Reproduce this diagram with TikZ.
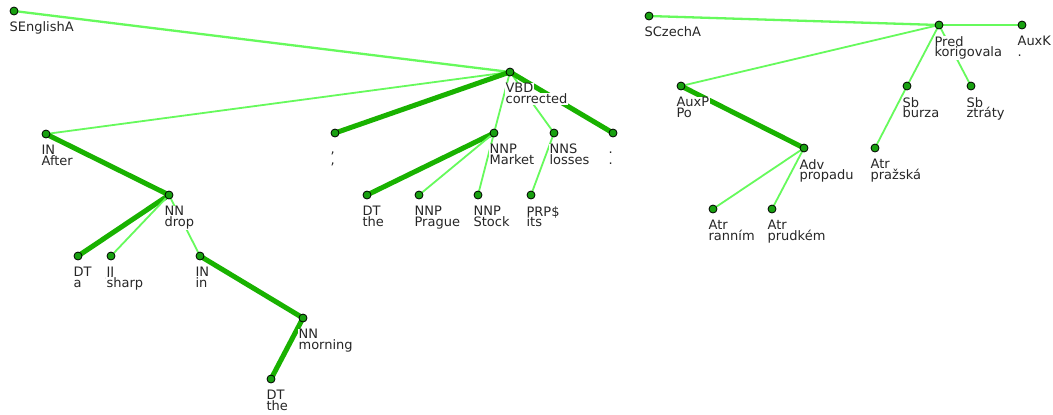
\documentclass[tikz,border=0pt]{standalone}
\usepackage{fontspec}
\newfontfamily\lblfont{DejaVu Sans}
\definecolor{heavyedge}{RGB}{25,178,0}
\definecolor{lightedge}{RGB}{102,250,92}
\definecolor{dotfill}{RGB}{24,160,16}
% label font with fixed, tight line pitch
\newcommand\lblsetup{\lblfont\fontsize{13bp}{10.8bp}\selectfont\lineskiplimit=-20bp\relax}
% one line of a label, on its own white strip
\newcommand\lb[1]{{\setlength\fboxsep{0.4bp}\colorbox{white}{\rule[-0.6bp]{0pt}{10.2bp}#1}}}
\tikzset{
  lbl/.style={anchor=north west, inner sep=0pt, align=left,
    font=\lblsetup, text=black!85},
  dotmark/.style={circle, fill=dotfill, draw=black, line width=0.8bp,
    inner sep=0pt, minimum size=8bp},
  heavy/.style={draw=heavyedge, line width=5bp},
  light/.style={draw=lightedge, line width=1.8bp},
  rootedge/.style={draw=lightedge, line width=2.3bp},
}
% a tree position
\newcommand\tpt[3]{\coordinate (#1) at (#2,#3);}
% two-line label (tag above word) and the dot of a tree node
\newcommand\tlab[3]{%
  \node[lbl] (#1-l) at ([xshift=-5bp,yshift=-10.6bp]#1) {\lb{#2}\\\lb{#3}};
  \node[dotmark] (#1-d) at (#1) {};}
% one-line label and dot of a root
\newcommand\rlab[2]{%
  \node[lbl] (#1-l) at ([xshift=-5bp,yshift=-9.6bp]#1) {\lb{#2}};
  \node[dotmark] (#1-d) at (#1) {};}
\begin{document}
\begin{tikzpicture}[x=1bp,y=-1bp]
\useasboundingbox[fill=white] (0,0) rectangle (1053,414);

% English tree positions
\tpt{seng}{14}{11}
\tpt{corr}{510}{72}
\tpt{after}{46}{134}
\tpt{drop}{169}{195}
\tpt{da}{78}{256}
\tpt{sharp}{111}{256}
\tpt{in}{200}{256}
\tpt{morning}{303}{318}
\tpt{theb}{271}{379}
\tpt{comma}{335}{133}
\tpt{market}{494}{133}
\tpt{losses}{554}{133}
\tpt{period}{613}{133}
\tpt{thea}{367}{195}
\tpt{prague}{419}{195}
\tpt{stock}{478}{195}
\tpt{its}{531}{195}

% Czech tree positions
\tpt{scz}{649}{16}
\tpt{pred}{939}{25}
\tpt{auxk}{1022}{25}
\tpt{auxp}{681}{86}
\tpt{burza}{907}{86}
\tpt{ztraty}{971}{86}
\tpt{adv}{804}{148}
\tpt{prazska}{875}{148}
\tpt{rannim}{713}{209}
\tpt{prudkem}{772}{209}

% English edges
\draw[rootedge] (seng) -- (corr);
\draw[light] (after) -- (corr);
\draw[heavy] (after) -- (drop);
\draw[heavy] (drop) -- (da);
\draw[light] (drop) -- (sharp);
\draw[light] (drop) -- (in);
\draw[heavy] (in) -- (morning);
\draw[heavy] (morning) -- (theb);
\draw[heavy] (corr) -- (comma);
\draw[light] (corr) -- (market);
\draw[light] (corr) -- (losses);
\draw[heavy] (corr) -- (period);
\draw[heavy] (market) -- (thea);
\draw[light] (market) -- (prague);
\draw[light] (market) -- (stock);
\draw[light] (losses) -- (its);

% Czech edges
\draw[rootedge] (scz) -- (pred);
\draw[light] (pred) -- (auxk);
\draw[light] (pred) -- (auxp);
\draw[light] (pred) -- (burza);
\draw[light] (pred) -- (ztraty);
\draw[light] (burza) -- (prazska);
\draw[heavy] (auxp) -- (adv);
\draw[light] (adv) -- (rannim);
\draw[light] (adv) -- (prudkem);

% English labels
\rlab{seng}{SEnglishA}
\tlab{corr}{VBD}{corrected}
\tlab{after}{IN}{After}
\tlab{drop}{NN}{drop}
\tlab{da}{DT}{a}
\tlab{sharp}{JJ}{sharp}
\tlab{in}{IN}{in}
\tlab{morning}{NN}{morning}
\tlab{theb}{DT}{the}
\tlab{comma}{,}{,}
\tlab{market}{NNP}{Market}
\tlab{losses}{NNS}{losses}
\tlab{period}{.}{.}
\tlab{thea}{DT}{the}
\tlab{prague}{NNP}{Prague}
\tlab{stock}{NNP}{Stock}
\tlab{its}{PRP\$}{its}

% Czech labels
\rlab{scz}{SCzechA}
\tlab{pred}{Pred}{korigovala}
\tlab{auxk}{AuxK}{.}
\tlab{auxp}{AuxP}{Po}
\tlab{burza}{Sb}{burza}
\tlab{ztraty}{Sb}{ztráty}
\tlab{adv}{Adv}{propadu}
\tlab{prazska}{Atr}{pražská}
\tlab{rannim}{Atr}{ranním}
\tlab{prudkem}{Atr}{prudkém}
\end{tikzpicture}
\end{document}
